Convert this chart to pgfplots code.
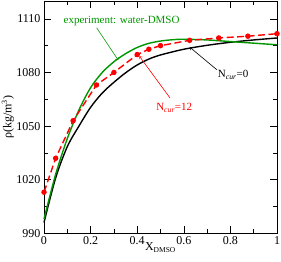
\documentclass[border=0pt]{standalone}
\usepackage{fontspec}
\setmainfont{Liberation Serif}
\usepackage{pgfplots}
\pgfplotsset{compat=1.18}
\definecolor{expgreen}{RGB}{0,150,0}
\begin{document}
\begin{tikzpicture}
\useasboundingbox (-44pt,-28.7pt) rectangle (237pt,233.3pt);
\begin{axis}[
  at={(0,0)}, anchor=south west,
  scale only axis, width=233pt, height=232.3pt,
  xmin=0, xmax=1, ymin=990, ymax=1120,
  xtick={0,0.2,0.4,0.6,0.8,1}, minor x tick num=1,
  ytick={990,1020,1050,1080,1110}, minor y tick num=1,
  tick align=inside, major tick length=7pt, minor tick length=4pt,
  tick style={black, line width=0.6pt},
  axis line style={line width=0.8pt},
  /pgf/number format/.cd, 1000 sep={}, assume math mode=true, /pgfplots/.cd,
  ticklabel style={font=\fontsize{12}{12}\selectfont},
  xticklabels={0,0.2,0.4,0.6,0.8,1},
  xlabel={X\textsubscript{\fontsize{7.5}{7.5}\selectfont DMSO}},
  ylabel={ρ(kg/m\textsuperscript{3})},
  label style={font=\fontsize{12}{12}\selectfont},
  xlabel style={at={(axis description cs:0.5,-0.06)}, anchor=center},
  ylabel style={at={(axis description cs:-0.155,0.5)}, anchor=center},
  clip=false,
]
\addplot[black, line width=1.4pt, smooth] coordinates {
(0,996) (0.05,1021) (0.1,1038.5) (0.15,1050) (0.2,1060.5) (0.25,1068.5) (0.3,1074.5)
(0.35,1079.8) (0.4,1084.2) (0.45,1087.5) (0.5,1089.8) (0.6,1093) (0.7,1095.2)
(0.8,1096.9) (0.9,1098.2) (1.0,1099.3)};
\addplot[expgreen, line width=1.4pt, smooth] coordinates {
(0,998) (0.05,1023) (0.1,1043) (0.15,1059) (0.2,1071.5) (0.25,1080) (0.3,1086)
(0.35,1090.5) (0.4,1094) (0.45,1096.3) (0.5,1097.6) (0.55,1098.3) (0.6,1098.6)
(0.7,1098.2) (0.8,1097.3) (0.9,1096.4) (1.0,1095.5)};
\addplot[red, line width=1.4pt, dash pattern=on 7pt off 3.5pt, mark=*,
  mark size=2pt, mark options={solid}] coordinates {
(0,1013) (0.05,1032) (0.125,1053) (0.225,1073) (0.3,1080) (0.4,1090)
(0.45,1093) (0.5,1095) (0.625,1098) (0.75,1099.3) (0.875,1100.3) (1.0,1101.7)};
\node[expgreen, font=\fontsize{11}{11}\selectfont] at (axis cs:0.333,1108.6) {experiment: water-DMSO};
\draw[expgreen, line width=0.6pt, ->] (axis cs:0.226,1105) -- (axis cs:0.318,1087);
\node[red, font=\fontsize{11}{11}\selectfont] at (axis cs:0.559,1060) {N\textsubscript{\itshape cur}=12};
\draw[red, line width=0.6pt, ->] (axis cs:0.541,1065.7) -- (axis cs:0.41,1089);
\node[black, font=\fontsize{11}{11}\selectfont] at (axis cs:0.812,1078.5) {N\textsubscript{\itshape cur}=0};
\draw[black, line width=0.6pt, ->] (axis cs:0.742,1081.5) -- (axis cs:0.627,1094);
\end{axis}
\end{tikzpicture}
\end{document}
